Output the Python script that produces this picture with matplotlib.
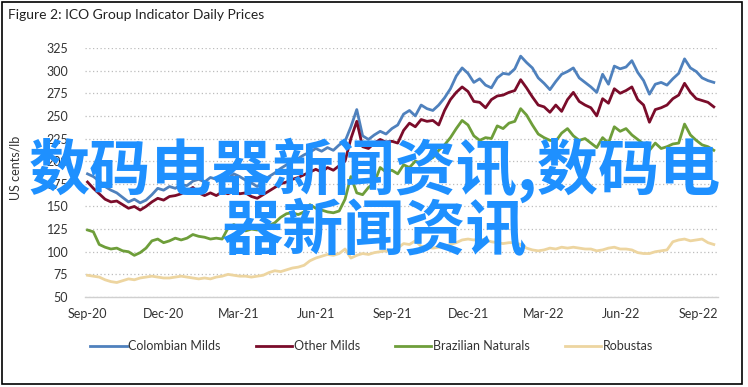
import matplotlib.pyplot as plt
import matplotlib.dates as mdates
from matplotlib.patches import Rectangle
import pandas as pd

# Weekly readings, Sep 2020 - Sep 2022 (US cents/lb)
dates = pd.date_range('2020-09-01', periods=108, freq='7D')

colombian = [186, 183, 178, 172, 168, 165, 160, 155, 158, 154,
             157, 163, 170, 168, 172, 170, 174, 173, 178, 180,
             177, 182, 180, 184, 181, 186, 183, 179, 176, 172,
             178, 183, 187, 192, 196, 200, 203, 207, 210, 214,
             211, 215, 212, 218, 222, 238, 257, 228, 224, 229,
             233, 230, 236, 240, 252, 256, 250, 262, 258, 256,
             262, 270, 280, 294, 303, 297, 287, 291, 284, 281,
             292, 297, 296, 302, 316, 309, 303, 292, 286, 279,
             288, 296, 299, 303, 292, 287, 282, 276, 296, 285,
             305, 302, 304, 311, 298, 289, 274, 285, 287, 284,
             291, 297, 313, 303, 299, 292, 289, 287]

other_milds = [177, 170, 164, 158, 155, 156, 152, 148, 150, 146,
               150, 155, 159, 157, 161, 162, 164, 167, 171, 165,
               162, 165, 162, 166, 164, 167, 164, 165, 161, 159,
               163, 167, 171, 175, 177, 180, 182, 185, 188, 191,
               188, 193, 190, 195, 200, 225, 244, 216, 214, 220,
               224, 221, 222, 220, 234, 242, 238, 246, 244, 245,
               240, 256, 268, 276, 282, 277, 266, 265, 259, 268,
               272, 273, 276, 278, 290, 281, 271, 262, 260, 254,
               262, 255, 268, 276, 266, 262, 259, 250, 269, 264,
               280, 275, 278, 282, 268, 262, 243, 257, 259, 262,
               269, 273, 286, 276, 269, 267, 265, 260]

brazilian = [124, 122, 108, 105, 103, 104, 101, 100, 96, 99,
             104, 112, 114, 110, 112, 115, 113, 115, 119, 117,
             116, 114, 115, 114, 126, 130, 126, 123, 125, 124,
             127, 129, 132, 138, 142, 143, 141, 144, 152, 148,
             146, 144, 143, 145, 158, 183, 165, 163, 171, 176,
             193, 188, 190, 186, 196, 193, 200, 198, 201, 204,
             212, 218, 226, 236, 245, 240, 228, 223, 226, 225,
             239, 236, 242, 244, 258, 251, 240, 230, 226, 223,
             222, 231, 236, 228, 223, 225, 220, 215, 226, 220,
             238, 233, 236, 229, 224, 219, 212, 220, 214, 216,
             219, 220, 241, 229, 223, 218, 216, 212]

robustas = [74, 73, 72, 69, 67, 66, 68, 70, 69, 71,
            72, 73, 72, 71, 71, 72, 73, 72, 71, 70,
            71, 70, 72, 73, 75, 74, 73, 73, 72, 73,
            74, 77, 79, 78, 80, 82, 83, 85, 90, 93,
            95, 97, 96, 98, 103, 93, 96, 98, 97, 99,
            100, 101, 100, 104, 109, 108, 112, 106, 105, 104,
            105, 106, 108, 110, 113, 114, 113, 114, 113, 111,
            110, 109, 110, 110, 108, 104, 102, 101, 102, 104,
            103, 105, 104, 105, 104, 103, 103, 101, 102, 104,
            105, 103, 103, 102, 99, 98, 98, 100, 101, 102,
            111, 113, 114, 112, 113, 114, 110, 108]

series_names = ['Colombian Milds', 'Other Milds', 'Brazilian Naturals', 'Robustas']
series_colors = ['#4F81BD', '#7A0C2A', '#6E9E3A', '#EDD5A0']
y_ticks = [50, 75, 100, 125, 150, 175, 200, 225, 250, 275, 300, 325]

plt.rcParams['font.family'] = ['Lato', 'DejaVu Sans']

W, H = 748, 387
fig = plt.figure(figsize=(W / 100, H / 100), dpi=100)
ax = fig.add_axes([85 / W, 1 - 297 / H, (718 - 85) / W, (297 - 48) / H])

for vals, name, col in zip([colombian, other_milds, brazilian, robustas],
                           series_names, series_colors):
    ax.plot(dates, vals, color=col, lw=2.0, label=name, solid_joinstyle='round')

ax.set_ylim(50, 325)
ax.set_yticks(y_ticks)
ax.set_xlim(pd.Timestamp('2020-08-29'), pd.Timestamp('2022-09-25'))
ax.xaxis.set_major_locator(mdates.MonthLocator(bymonth=[3, 6, 9, 12]))
ax.xaxis.set_major_formatter(mdates.DateFormatter('%b-%y'))

ax.grid(axis='y', color='#BDBDBD', linestyle=(0, (1, 2)), linewidth=0.9)
ax.set_axisbelow(True)
for s in ['top', 'right', 'left']:
    ax.spines[s].set_visible(False)
ax.spines['bottom'].set_color('#D0D0D0')
ax.spines['bottom'].set_linewidth(1.0)
ax.tick_params(length=0, labelsize=9, colors='#333333')
ax.tick_params(axis='y', pad=12)
ax.tick_params(axis='x', pad=8)

fig.text(15 / W, 1 - 168 / H, 'US cents/lb', rotation=90, ha='center', va='center',
         fontsize=9, color='#333333')
fig.text(8 / W, 1 - 15 / H, 'Figure 2: ICO Group Indicator Daily Prices', ha='left',
         va='center', fontsize=10, color='#222222')

fig.legend(loc='center', bbox_to_anchor=(0.497, 1 - 346 / H), ncol=4, frameon=False,
           fontsize=9, handlelength=2.9, handletextpad=0.15, columnspacing=2.8,
           labelcolor='#333333')

# frame around the figure
fig.patches.append(Rectangle((1.5 / W, 1 - 384 / H), (742 - 1.5) / W, (384 - 1.5) / H,
                             transform=fig.transFigure, fill=False, edgecolor='black',
                             linewidth=1.2, zorder=0))

# overlaid banner text
fig.text(375 / W, 1 - 200 / H, '数码电器新闻资讯,数码电\n器新闻资讯', ha='center', va='center',
         multialignment='center', fontsize=44, color='#1E90FF', fontweight='bold',
         linespacing=0.98, family=['Noto Sans CJK SC', 'DejaVu Sans'], zorder=10)

fig.savefig('out.png', dpi=100)
